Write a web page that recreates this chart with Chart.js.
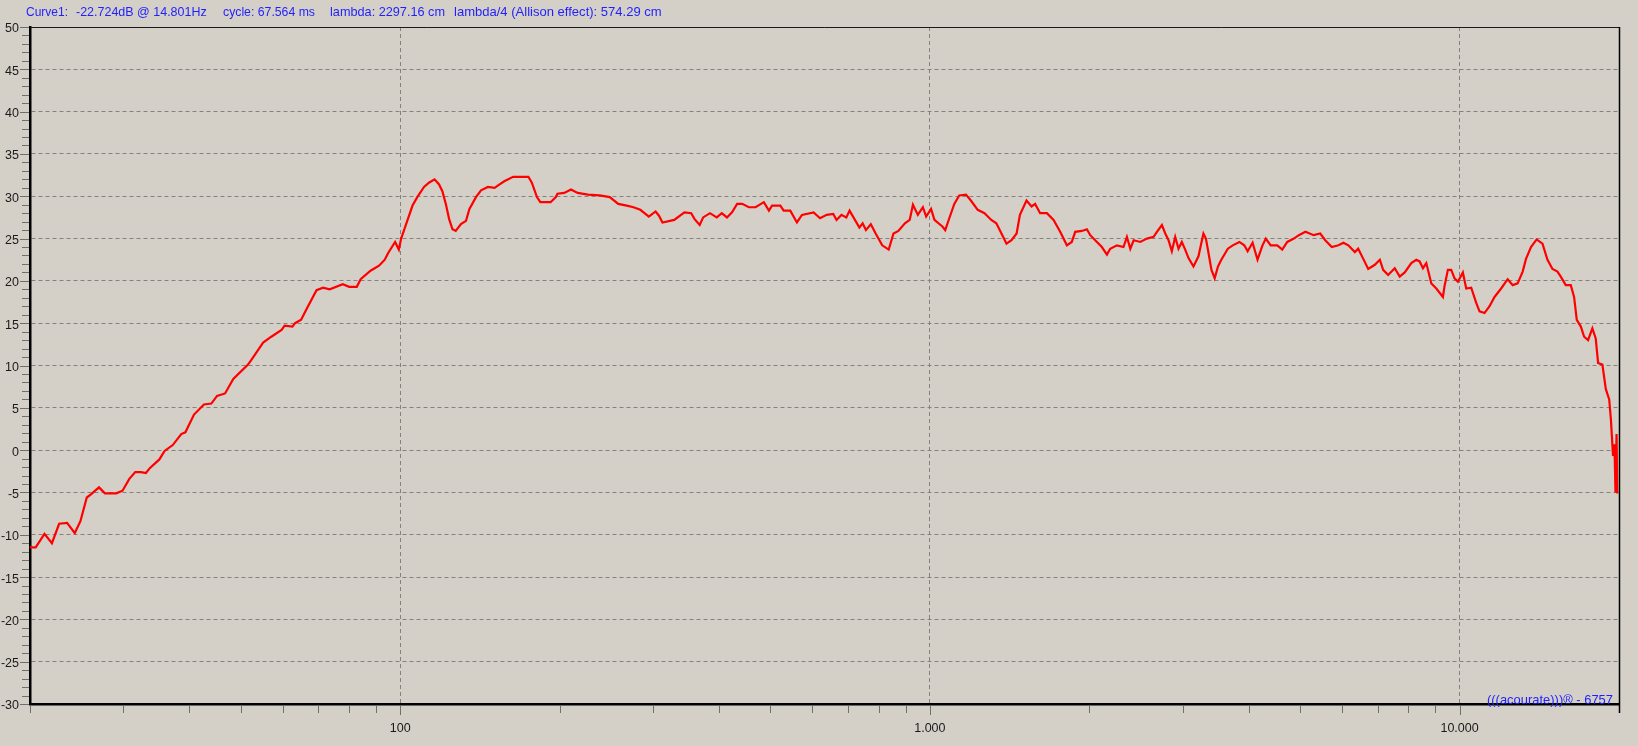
<!DOCTYPE html>
<html>
<head>
<meta charset="utf-8">
<script src="https://cdn.jsdelivr.net/npm/chart.js@4.4.1/dist/chart.umd.min.js"></script>
<style>
  html, body { margin: 0; padding: 0; background: #d4d0c8; overflow: hidden; }
  canvas { display: block; }
</style>
</head>
<body>
<canvas id="fr" width="1638" height="746"></canvas>
<script>
/* Frequency response, Curve1 (dB over Hz, log axis) */

const F_MIN = 20, F_MAX = 20000;
const DB_MIN = -30, DB_MAX = 50, DB_STEP = 5;
const X_TICKS = [100, 1000, 10000];

const HEADER = [
  "Curve1:",
  "-22.724dB @ 14.801Hz",
  "cycle: 67.564 ms",
  "lambda: 2297.16 cm",
  "lambda/4 (Allison effect): 574.29 cm"
];
const STAMP = "(((acourate)))\u00ae - 6757";

const FREQ = [
  20, 20.5, 21.3, 22.0, 22.7, 23.5, 24.3, 24.9, 25.6, 26.1,
  27.0, 27.7, 29.1, 29.9, 30.8, 31.6, 32.4, 33.1, 33.7, 35.1,
  35.9, 37.2, 38.6, 39.3, 40.8, 42.6, 44.0, 45.1, 46.7, 48.4,
  51.6, 52.4, 55.1, 57.1, 59.7, 60.5, 62.6, 63.3, 65.0, 66.6,
  69.5, 71.5, 73.6, 77.9, 80.1, 82.8, 84.2, 87.9, 91.2, 93.5,
  94.9, 97.8, 99.4, 100.4, 102.6, 105.5, 107.7, 110.9, 113.3, 116.1,
  118.4, 120.1, 121.9, 123.7, 125.5, 127.3, 130.2, 133.1, 135.1, 139.0,
  142.1, 146.4, 150.7, 154, 157.5, 163.4, 174.6, 177.2, 181.2, 183.9,
  192.3, 196.7, 198.1, 204, 210.1, 216.3, 226.2, 238, 248.7, 258,
  267.8, 275.7, 284, 294.7, 303.5, 308, 312.7, 329.1, 344, 354.3,
  359.6, 367.6, 373.2, 384.4, 395.9, 404.7, 413.9, 423.1, 432.6, 442.2,
  455.3, 468.6, 485.9, 496.7, 503.5, 522, 529.6, 545, 561, 573.5,
  603.2, 620.4, 638.4, 657, 666.4, 680.8, 695.4, 705.3, 720.5, 736,
  746.5, 757.2, 773.5, 790, 812.8, 836, 853.7, 872, 897, 916,
  929, 949, 970, 984, 1005, 1020, 1057, 1069, 1088, 1112,
  1136, 1170, 1195, 1231, 1268, 1306, 1335, 1365, 1395, 1426,
  1458, 1479, 1522, 1556, 1580, 1615, 1663, 1712, 1762, 1814,
  1853, 1881, 1936, 1979, 2008, 2067, 2112, 2159, 2190, 2255,
  2320, 2355, 2390, 2425, 2496, 2569, 2645, 2683, 2742, 2782,
  2822, 2863, 2905, 2947, 2990, 3034, 3078, 3145, 3214, 3284,
  3320, 3353, 3401, 3449, 3499, 3550, 3652, 3731, 3840, 3923,
  3980, 4067, 4155, 4246, 4307, 4400, 4528, 4627, 4728, 4866,
  4972, 5117, 5303, 5458, 5577, 5739, 5907, 6036, 6166, 6344,
  6436, 6580, 6723, 6919, 7071, 7174, 7331, 7544, 7710, 7879,
  8108, 8286, 8406, 8529, 8654, 8845, 9039, 9302, 9369, 9505,
  9644, 9785, 9928, 10145, 10294, 10520, 10751, 10908, 11147, 11392,
  11642, 11980, 12327, 12598, 12874, 13157, 13349, 13642, 13980, 14340,
  14656, 14978, 15306, 15527, 15868, 16217, 16453, 16646, 16942, 17188,
  17484, 17814, 18075, 18262, 18606, 18887, 19166, 19309, 19487, 19608,
  19696, 19790, 19843, 19950
];
const DB = [
  -11.5, -11.5, -9.9, -11.0, -8.7, -8.6, -9.8, -8.4, -5.6, -5.2,
  -4.4, -5.1, -5.1, -4.8, -3.4, -2.6, -2.6, -2.7, -2.1, -1.1,
  -0.1, 0.6, 1.9, 2.1, 4.2, 5.4, 5.5, 6.4, 6.7, 8.4,
  10.1, 10.7, 12.7, 13.4, 14.2, 14.7, 14.6, 15.0, 15.4, 16.7,
  18.9, 19.2, 19.0, 19.6, 19.3, 19.3, 20.2, 21.2, 21.8, 22.5,
  23.3, 24.6, 23.7, 25.0, 26.7, 28.9, 29.9, 31.1, 31.6, 32.0,
  31.4, 30.6, 29.1, 27.3, 26.1, 25.9, 26.7, 27.1, 28.5, 29.9,
  30.7, 31.1, 31.0, 31.4, 31.8, 32.3, 32.3, 31.6, 29.9, 29.3,
  29.3, 29.9, 30.3, 30.4, 30.8, 30.4, 30.2, 30.1, 29.9, 29.1,
  28.9, 28.7, 28.4, 27.6, 28.2, 27.7, 26.9, 27.2, 28.1, 28.0,
  27.3, 26.6, 27.5, 28.0, 27.5, 28.0, 27.5, 28.1, 29.1, 29.1,
  28.7, 28.7, 29.3, 28.3, 28.9, 28.9, 28.3, 28.3, 26.9, 27.8,
  28.1, 27.4, 27.8, 27.9, 27.2, 27.8, 27.5, 28.3, 27.3, 26.3,
  26.8, 26.0, 26.7, 25.6, 24.2, 23.7, 25.6, 25.9, 26.8, 27.2,
  29.0, 27.8, 28.7, 27.6, 28.5, 27.2, 26.4, 26.0, 27.4, 29.1,
  30.1, 30.2, 29.5, 28.4, 28.0, 27.2, 26.8, 25.6, 24.4, 24.8,
  25.6, 27.8, 29.5, 28.8, 29.1, 28.0, 28.0, 27.2, 25.8, 24.2,
  24.6, 25.8, 25.9, 26.1, 25.4, 24.6, 24.0, 23.1, 23.8, 24.2,
  24.0, 25.2, 23.8, 24.8, 24.6, 25.0, 25.2, 25.8, 26.6, 25.6,
  24.8, 23.5, 25.2, 23.8, 24.6, 23.7, 22.7, 21.7, 22.9, 25.6,
  25.0, 23.5, 21.3, 20.3, 21.7, 22.5, 23.8, 24.2, 24.6, 24.2,
  23.5, 24.5, 22.5, 24.2, 25.0, 24.2, 24.2, 23.7, 24.6, 25.0,
  25.4, 25.8, 25.4, 25.6, 24.8, 24.0, 24.2, 24.5, 24.2, 23.4,
  23.8, 22.6, 21.4, 21.9, 22.5, 21.3, 20.7, 21.5, 20.5, 21.0,
  22.1, 22.5, 22.3, 21.5, 22.1, 19.7, 19.1, 18.1, 19.4, 21.3,
  21.3, 20.3, 19.9, 21.0, 19.1, 19.2, 17.4, 16.4, 16.2, 17.0,
  18.1, 19.1, 20.2, 19.5, 19.7, 21.1, 22.6, 24.0, 24.9, 24.4,
  22.5, 21.4, 21.1, 20.5, 19.5, 19.5, 18.1, 15.4, 14.6, 13.4,
  13.0, 14.4, 13.2, 10.3, 10.1, 7.2, 6.0, 3.6, -0.7, 0.7,
  -5.0, 1.9, -5.0, -5.0
];

const BG = "#d4d0c8";
const BLUE = "#1f1fff";
const GRID = "#828282";
const TXT_FONT = '13px "Liberation Sans", Arial, sans-serif';

function dotted(v) {
  return String(v).replace(/\B(?=(\d{3})+(?!\d))/g, ".");
}

// draw a text so that it spans exactly w pixels from x
function fitText(c, t, x, y, w) {
  const m = c.measureText(t).width;
  c.save();
  c.translate(x, y);
  c.scale(w / m, 1);
  c.fillText(t, 0, 0);
  c.restore();
}

const extras = {
  id: "extras",
  beforeDraw(chart) {
    const c = chart.ctx;
    c.save();
    c.fillStyle = BG;
    c.fillRect(0, 0, chart.width, chart.height);
    c.restore();
  },
  afterDraw(chart) {
    const c = chart.ctx;
    const a = chart.chartArea;
    const xs = chart.scales.x, ys = chart.scales.y;
    c.save();

    // ticks, left axis (every dB, longer at labels)
    c.strokeStyle = "#6e6e6e";
    c.lineWidth = 1;
    c.beginPath();
    for (let v = DB_MIN; v <= DB_MAX; v++) {
      const y = Math.round(ys.getPixelForValue(v)) + 0.5;
      c.moveTo(a.left - (v % DB_STEP === 0 ? 10 : 8), y);
      c.lineTo(a.left - 1, y);
    }
    // ticks, bottom axis (1..9 per decade)
    for (let d = 10; d <= 10000; d *= 10) {
      for (let m = 1; m <= 9; m++) {
        const f = d * m;
        if (f < F_MIN || f > F_MAX) continue;
        const x = Math.round(xs.getPixelForValue(f)) + 0.5;
        c.moveTo(x, a.bottom + 1);
        c.lineTo(x, a.bottom + (m === 1 ? 11 : 9));
      }
    }
    c.stroke();

    // top and right frame
    c.strokeStyle = "#1a1a1a";
    c.beginPath();
    c.moveTo(a.left, a.top + 0.5);
    c.lineTo(a.right, a.top + 0.5);
    c.stroke();
    c.strokeStyle = "#000";
    c.lineWidth = 1.5;
    c.beginPath();
    c.moveTo(a.right + 0.5, a.top);
    c.lineTo(a.right + 0.5, a.bottom + 9);
    c.stroke();

    // header line
    c.fillStyle = BLUE;
    c.font = TXT_FONT;
    c.textBaseline = "middle";
    c.textAlign = "left";
    const hx = [26, 76, 223, 330, 454];
    const hw = [42, 130.7, 92, 115, 207.7];
    HEADER.forEach((t, i) => fitText(c, t, hx[i], 12.5, hw[i]));

    // program stamp
    fitText(c, STAMP, 1487, 700.5, 126);
    c.restore();
  }
};

new Chart(document.getElementById("fr"), {
  type: "line",
  data: {
    datasets: [{
      label: "Curve1",
      data: FREQ.map((f, i) => ({ x: f, y: DB[i] })),
      borderColor: "#ff0000",
      borderWidth: 2.2,
      pointRadius: 0,
      tension: 0,
      fill: false
    }]
  },
  options: {
    responsive: false,
    animation: false,
    devicePixelRatio: 1,
    layout: { padding: { top: 27, right: 19, bottom: 0, left: 0 } },
    plugins: { legend: { display: false }, tooltip: { enabled: false } },
    scales: {
      x: {
        type: "logarithmic",
        min: F_MIN,
        max: F_MAX,
        afterBuildTicks: s => { s.ticks = X_TICKS.map(v => ({ value: v })); },
        afterFit: s => { s.height = 42; },
        grid: { color: GRID, lineWidth: 1, drawTicks: false },
        border: { display: true, color: "#000", width: 2.5, dash: [4, 3] },
        ticks: {
          autoSkip: false,
          maxRotation: 0,
          padding: 17,
          color: "#1a1a1a",
          font: { family: '"Liberation Sans", Arial, sans-serif', size: 12.5 },
          callback: v => dotted(v)
        }
      },
      y: {
        min: DB_MIN,
        max: DB_MAX,
        afterFit: s => { s.width = 30; },
        grid: { color: GRID, lineWidth: 1, drawTicks: false },
        border: { display: true, color: "#000", width: 2.5, dash: [4, 3] },
        ticks: {
          stepSize: DB_STEP,
          padding: 11,
          labelOffset: 2,
          color: "#1a1a1a",
          font: { family: '"Liberation Sans", Arial, sans-serif', size: 12.5 }
        }
      }
    }
  },
  plugins: [extras]
});
</script>
</body>
</html>
